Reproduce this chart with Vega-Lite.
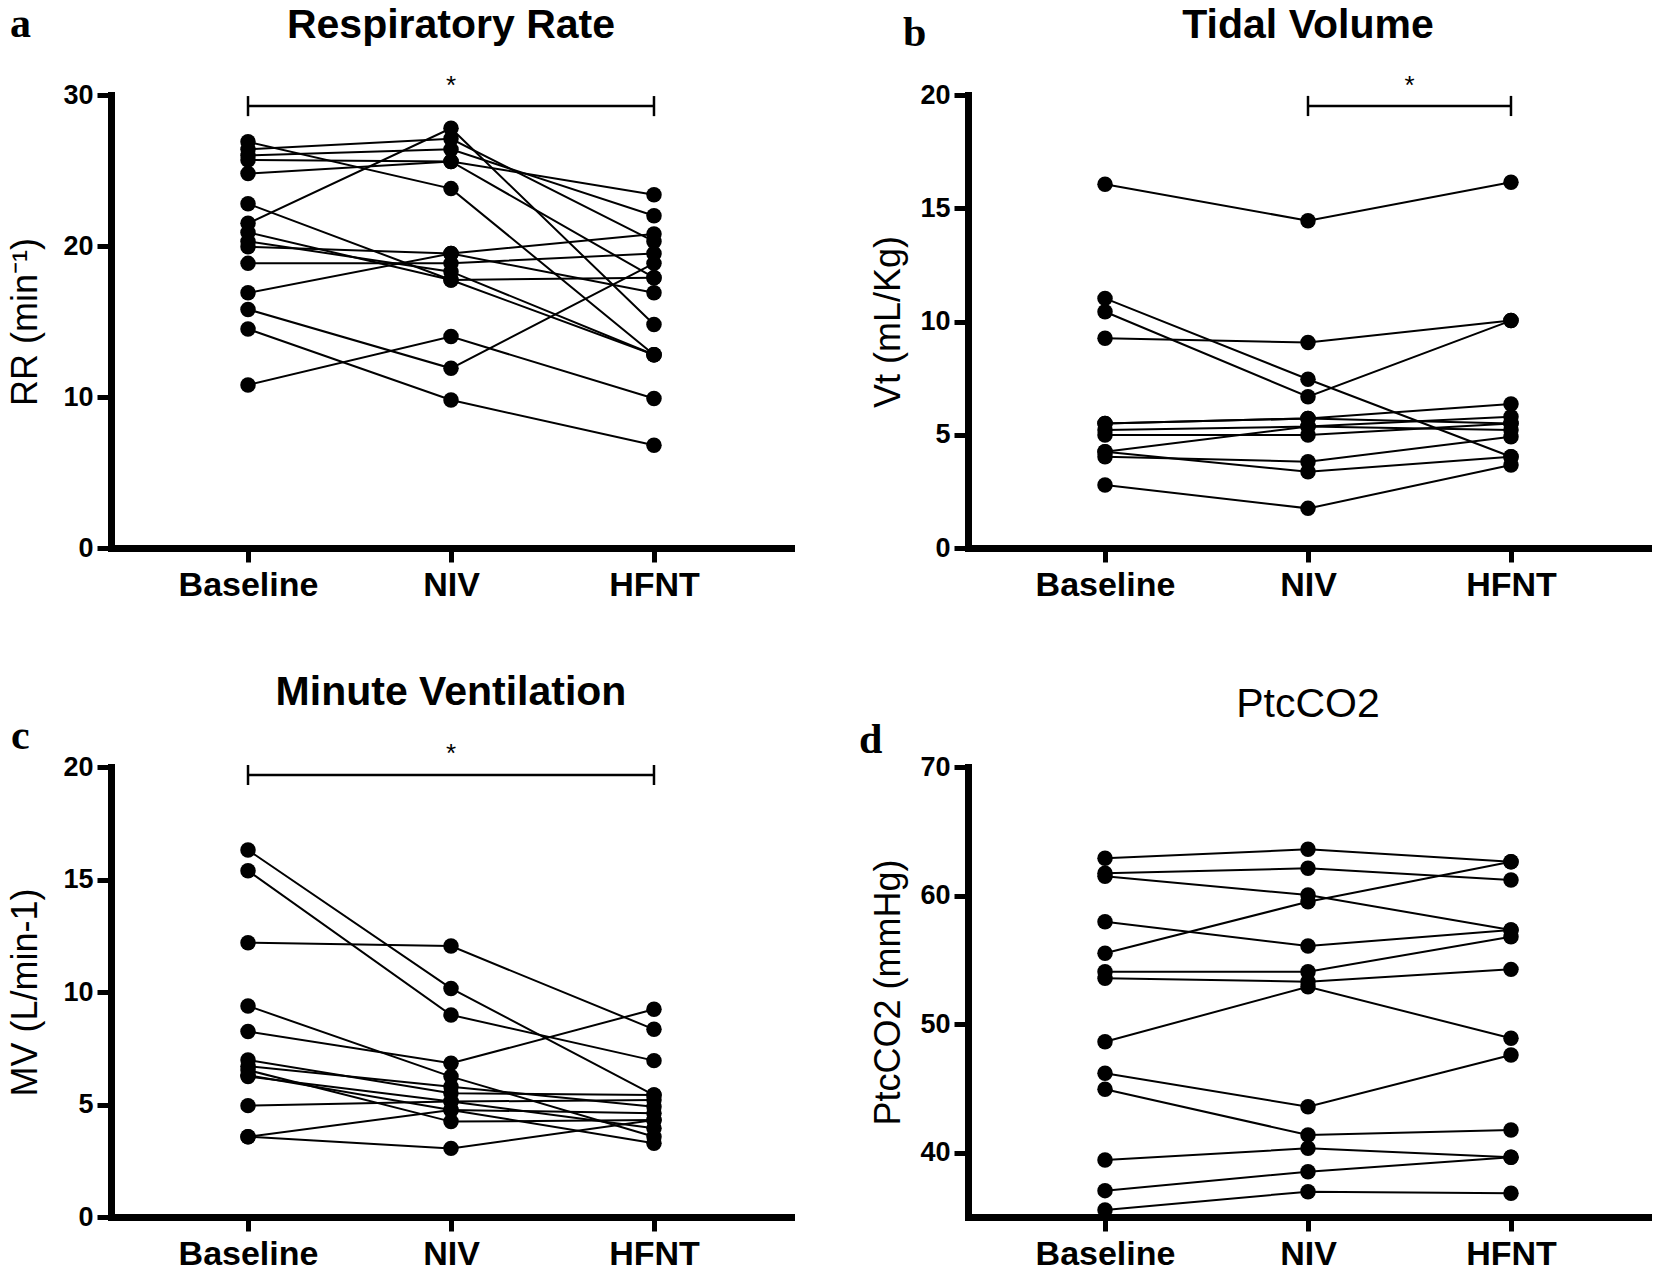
{
  "$schema": "https://vega.github.io/schema/vega-lite/v6.json",
  "autosize": "none",
  "padding": {"left": 111, "top": 95, "right": 1543, "bottom": 1178},
  "background": "white",
  "config": {
    "view": {"stroke": null},
    "font": "Liberation Sans",
    "axis": {"domainColor": "black", "domainWidth": 7, "domainCap": "square", "tickColor": "black", "tickWidth": 5, "tickSize": 14, "labelColor": "black", "labelFont": "Liberation Sans", "labelFontWeight": "bold", "grid": false, "titleFont": "Liberation Sans", "titleFontWeight": "normal", "titleColor": "black", "titleFontSize": 36, "labelPadding": 4, "labelOverlap": false},
    "axisX": {"labelFontSize": 34, "labelAngle": 0, "labelPadding": 6},
    "axisY": {"labelFontSize": 27, "labelFlush": false}
  },
  "datasets": {
    "pts": [
      {"panel": "a", "subject": 1, "condition": "Baseline", "value": 26.9}, {"panel": "a", "subject": 1, "condition": "NIV", "value": 23.8}, {"panel": "a", "subject": 1, "condition": "HFNT", "value": 12.8},
      {"panel": "a", "subject": 2, "condition": "Baseline", "value": 26.4}, {"panel": "a", "subject": 2, "condition": "NIV", "value": 27.1}, {"panel": "a", "subject": 2, "condition": "HFNT", "value": 20.3},
      {"panel": "a", "subject": 3, "condition": "Baseline", "value": 26.0}, {"panel": "a", "subject": 3, "condition": "NIV", "value": 26.4}, {"panel": "a", "subject": 3, "condition": "HFNT", "value": 22.0},
      {"panel": "a", "subject": 4, "condition": "Baseline", "value": 25.7}, {"panel": "a", "subject": 4, "condition": "NIV", "value": 25.6}, {"panel": "a", "subject": 4, "condition": "HFNT", "value": 23.4},
      {"panel": "a", "subject": 5, "condition": "Baseline", "value": 24.8}, {"panel": "a", "subject": 5, "condition": "NIV", "value": 25.6}, {"panel": "a", "subject": 5, "condition": "HFNT", "value": 17.9},
      {"panel": "a", "subject": 6, "condition": "Baseline", "value": 22.8}, {"panel": "a", "subject": 6, "condition": "NIV", "value": 17.75}, {"panel": "a", "subject": 6, "condition": "HFNT", "value": 12.8},
      {"panel": "a", "subject": 7, "condition": "Baseline", "value": 21.5}, {"panel": "a", "subject": 7, "condition": "NIV", "value": 27.8}, {"panel": "a", "subject": 7, "condition": "HFNT", "value": 14.8},
      {"panel": "a", "subject": 8, "condition": "Baseline", "value": 20.9}, {"panel": "a", "subject": 8, "condition": "NIV", "value": 17.75}, {"panel": "a", "subject": 8, "condition": "HFNT", "value": 17.9},
      {"panel": "a", "subject": 9, "condition": "Baseline", "value": 20.3}, {"panel": "a", "subject": 9, "condition": "NIV", "value": 18.3}, {"panel": "a", "subject": 9, "condition": "HFNT", "value": 12.8},
      {"panel": "a", "subject": 10, "condition": "Baseline", "value": 19.95}, {"panel": "a", "subject": 10, "condition": "NIV", "value": 19.5}, {"panel": "a", "subject": 10, "condition": "HFNT", "value": 16.9},
      {"panel": "a", "subject": 11, "condition": "Baseline", "value": 18.85}, {"panel": "a", "subject": 11, "condition": "NIV", "value": 18.85}, {"panel": "a", "subject": 11, "condition": "HFNT", "value": 19.5},
      {"panel": "a", "subject": 12, "condition": "Baseline", "value": 16.9}, {"panel": "a", "subject": 12, "condition": "NIV", "value": 19.5}, {"panel": "a", "subject": 12, "condition": "HFNT", "value": 20.8},
      {"panel": "a", "subject": 13, "condition": "Baseline", "value": 15.8}, {"panel": "a", "subject": 13, "condition": "NIV", "value": 11.9}, {"panel": "a", "subject": 13, "condition": "HFNT", "value": 18.85},
      {"panel": "a", "subject": 14, "condition": "Baseline", "value": 14.5}, {"panel": "a", "subject": 14, "condition": "NIV", "value": 9.8}, {"panel": "a", "subject": 14, "condition": "HFNT", "value": 6.8},
      {"panel": "a", "subject": 15, "condition": "Baseline", "value": 10.8}, {"panel": "a", "subject": 15, "condition": "NIV", "value": 14.0}, {"panel": "a", "subject": 15, "condition": "HFNT", "value": 9.9},
      {"panel": "b", "subject": 1, "condition": "Baseline", "value": 16.06}, {"panel": "b", "subject": 1, "condition": "NIV", "value": 14.45}, {"panel": "b", "subject": 1, "condition": "HFNT", "value": 16.15},
      {"panel": "b", "subject": 2, "condition": "Baseline", "value": 11.02}, {"panel": "b", "subject": 2, "condition": "NIV", "value": 7.45}, {"panel": "b", "subject": 2, "condition": "HFNT", "value": 4.03},
      {"panel": "b", "subject": 3, "condition": "Baseline", "value": 10.43}, {"panel": "b", "subject": 3, "condition": "NIV", "value": 6.68}, {"panel": "b", "subject": 3, "condition": "HFNT", "value": 10.04},
      {"panel": "b", "subject": 4, "condition": "Baseline", "value": 9.26}, {"panel": "b", "subject": 4, "condition": "NIV", "value": 9.07}, {"panel": "b", "subject": 4, "condition": "HFNT", "value": 10.04},
      {"panel": "b", "subject": 5, "condition": "Baseline", "value": 5.5}, {"panel": "b", "subject": 5, "condition": "NIV", "value": 5.72}, {"panel": "b", "subject": 5, "condition": "HFNT", "value": 6.36},
      {"panel": "b", "subject": 6, "condition": "Baseline", "value": 5.21}, {"panel": "b", "subject": 6, "condition": "NIV", "value": 5.36}, {"panel": "b", "subject": 6, "condition": "HFNT", "value": 5.8},
      {"panel": "b", "subject": 7, "condition": "Baseline", "value": 4.99}, {"panel": "b", "subject": 7, "condition": "NIV", "value": 4.99}, {"panel": "b", "subject": 7, "condition": "HFNT", "value": 5.5},
      {"panel": "b", "subject": 8, "condition": "Baseline", "value": 4.25}, {"panel": "b", "subject": 8, "condition": "NIV", "value": 5.36}, {"panel": "b", "subject": 8, "condition": "HFNT", "value": 5.21},
      {"panel": "b", "subject": 9, "condition": "Baseline", "value": 4.03}, {"panel": "b", "subject": 9, "condition": "NIV", "value": 3.81}, {"panel": "b", "subject": 9, "condition": "HFNT", "value": 4.91},
      {"panel": "b", "subject": 10, "condition": "Baseline", "value": 4.25}, {"panel": "b", "subject": 10, "condition": "NIV", "value": 3.37}, {"panel": "b", "subject": 10, "condition": "HFNT", "value": 4.03},
      {"panel": "b", "subject": 11, "condition": "Baseline", "value": 2.78}, {"panel": "b", "subject": 11, "condition": "NIV", "value": 1.75}, {"panel": "b", "subject": 11, "condition": "HFNT", "value": 3.66},
      {"panel": "b", "subject": 12, "condition": "Baseline", "value": 5.5}, {"panel": "b", "subject": 12, "condition": "NIV", "value": 5.72}, {"panel": "b", "subject": 12, "condition": "HFNT", "value": 5.5},
      {"panel": "c", "subject": 1, "condition": "Baseline", "value": 16.31}, {"panel": "c", "subject": 1, "condition": "NIV", "value": 10.16}, {"panel": "c", "subject": 1, "condition": "HFNT", "value": 5.42},
      {"panel": "c", "subject": 2, "condition": "Baseline", "value": 15.39}, {"panel": "c", "subject": 2, "condition": "NIV", "value": 8.98}, {"panel": "c", "subject": 2, "condition": "HFNT", "value": 6.95},
      {"panel": "c", "subject": 3, "condition": "Baseline", "value": 12.19}, {"panel": "c", "subject": 3, "condition": "NIV", "value": 12.04}, {"panel": "c", "subject": 3, "condition": "HFNT", "value": 8.34},
      {"panel": "c", "subject": 4, "condition": "Baseline", "value": 9.38}, {"panel": "c", "subject": 4, "condition": "NIV", "value": 6.24}, {"panel": "c", "subject": 4, "condition": "HFNT", "value": 3.57},
      {"panel": "c", "subject": 5, "condition": "Baseline", "value": 8.24}, {"panel": "c", "subject": 5, "condition": "NIV", "value": 6.83}, {"panel": "c", "subject": 5, "condition": "HFNT", "value": 9.23},
      {"panel": "c", "subject": 6, "condition": "Baseline", "value": 6.98}, {"panel": "c", "subject": 6, "condition": "NIV", "value": 5.5}, {"panel": "c", "subject": 6, "condition": "HFNT", "value": 5.42},
      {"panel": "c", "subject": 7, "condition": "Baseline", "value": 6.53}, {"panel": "c", "subject": 7, "condition": "NIV", "value": 4.24}, {"panel": "c", "subject": 7, "condition": "HFNT", "value": 4.31},
      {"panel": "c", "subject": 8, "condition": "Baseline", "value": 6.24}, {"panel": "c", "subject": 8, "condition": "NIV", "value": 5.13}, {"panel": "c", "subject": 8, "condition": "HFNT", "value": 3.94},
      {"panel": "c", "subject": 9, "condition": "Baseline", "value": 6.7}, {"panel": "c", "subject": 9, "condition": "NIV", "value": 5.79}, {"panel": "c", "subject": 9, "condition": "HFNT", "value": 4.9},
      {"panel": "c", "subject": 10, "condition": "Baseline", "value": 4.95}, {"panel": "c", "subject": 10, "condition": "NIV", "value": 5.13}, {"panel": "c", "subject": 10, "condition": "HFNT", "value": 5.2},
      {"panel": "c", "subject": 11, "condition": "Baseline", "value": 3.57}, {"panel": "c", "subject": 11, "condition": "NIV", "value": 4.76}, {"panel": "c", "subject": 11, "condition": "HFNT", "value": 4.61},
      {"panel": "c", "subject": 12, "condition": "Baseline", "value": 3.57}, {"panel": "c", "subject": 12, "condition": "NIV", "value": 3.05}, {"panel": "c", "subject": 12, "condition": "HFNT", "value": 4.31},
      {"panel": "c", "subject": 13, "condition": "Baseline", "value": 6.3}, {"panel": "c", "subject": 13, "condition": "NIV", "value": 4.76}, {"panel": "c", "subject": 13, "condition": "HFNT", "value": 3.28},
      {"panel": "d", "subject": 1, "condition": "Baseline", "value": 62.9}, {"panel": "d", "subject": 1, "condition": "NIV", "value": 63.6}, {"panel": "d", "subject": 1, "condition": "HFNT", "value": 62.63},
      {"panel": "d", "subject": 2, "condition": "Baseline", "value": 61.73}, {"panel": "d", "subject": 2, "condition": "NIV", "value": 62.12}, {"panel": "d", "subject": 2, "condition": "HFNT", "value": 61.21},
      {"panel": "d", "subject": 3, "condition": "Baseline", "value": 61.5}, {"panel": "d", "subject": 3, "condition": "NIV", "value": 60.04}, {"panel": "d", "subject": 3, "condition": "HFNT", "value": 57.32},
      {"panel": "d", "subject": 4, "condition": "Baseline", "value": 57.97}, {"panel": "d", "subject": 4, "condition": "NIV", "value": 56.08}, {"panel": "d", "subject": 4, "condition": "HFNT", "value": 57.32},
      {"panel": "d", "subject": 5, "condition": "Baseline", "value": 55.51}, {"panel": "d", "subject": 5, "condition": "NIV", "value": 59.52}, {"panel": "d", "subject": 5, "condition": "HFNT", "value": 62.63},
      {"panel": "d", "subject": 6, "condition": "Baseline", "value": 54.08}, {"panel": "d", "subject": 6, "condition": "NIV", "value": 54.08}, {"panel": "d", "subject": 6, "condition": "HFNT", "value": 56.8},
      {"panel": "d", "subject": 7, "condition": "Baseline", "value": 53.56}, {"panel": "d", "subject": 7, "condition": "NIV", "value": 53.3}, {"panel": "d", "subject": 7, "condition": "HFNT", "value": 54.26},
      {"panel": "d", "subject": 8, "condition": "Baseline", "value": 48.63}, {"panel": "d", "subject": 8, "condition": "NIV", "value": 52.91}, {"panel": "d", "subject": 8, "condition": "HFNT", "value": 48.9},
      {"panel": "d", "subject": 9, "condition": "Baseline", "value": 46.18}, {"panel": "d", "subject": 9, "condition": "NIV", "value": 43.58}, {"panel": "d", "subject": 9, "condition": "HFNT", "value": 47.6},
      {"panel": "d", "subject": 10, "condition": "Baseline", "value": 44.93}, {"panel": "d", "subject": 10, "condition": "NIV", "value": 41.38}, {"panel": "d", "subject": 10, "condition": "HFNT", "value": 41.77},
      {"panel": "d", "subject": 11, "condition": "Baseline", "value": 39.43}, {"panel": "d", "subject": 11, "condition": "NIV", "value": 40.34}, {"panel": "d", "subject": 11, "condition": "HFNT", "value": 39.64},
      {"panel": "d", "subject": 12, "condition": "Baseline", "value": 37.05}, {"panel": "d", "subject": 12, "condition": "NIV", "value": 38.52}, {"panel": "d", "subject": 12, "condition": "HFNT", "value": 39.64},
      {"panel": "d", "subject": 13, "condition": "Baseline", "value": 35.54}, {"panel": "d", "subject": 13, "condition": "NIV", "value": 36.97}, {"panel": "d", "subject": 13, "condition": "HFNT", "value": 36.84}
    ]
  },
  "columns": 2,
  "bounds": "flush",
  "spacing": {"row": 219, "column": 177},
  "concat": [
    {
      "width": 680, "height": 453,
      "layer": [
        {"data": {"name": "pts"}, "transform": [{"filter": "datum.panel == 'a'"}],
         "mark": {"type": "line", "color": "black", "strokeWidth": 2},
         "encoding": {
           "x": {"field": "condition", "type": "ordinal", "sort": ["Baseline", "NIV", "HFNT"], "scale": {"type": "point", "padding": 0.675, "domain": ["Baseline", "NIV", "HFNT"]}, "axis": {"title": null}},
           "y": {"field": "value", "type": "quantitative", "scale": {"domain": [0, 30], "nice": false, "zero": false}, "axis": {"title": "RR (min⁻¹)", "values": [0, 10, 20, 30], "titlePadding": 18}},
           "detail": {"field": "subject", "type": "nominal"}}},
        {"data": {"name": "pts"}, "transform": [{"filter": "datum.panel == 'a'"}],
         "mark": {"type": "circle", "color": "black", "size": 240, "opacity": 1},
         "encoding": {"x": {"field": "condition", "type": "ordinal"}, "y": {"field": "value", "type": "quantitative"}}},
        {"data": {"values": [{}]}, "mark": {"type": "rule", "color": "black", "strokeWidth": 2.5},
         "encoding": {"x": {"datum": "Baseline", "type": "ordinal"}, "x2": {"datum": "HFNT"}, "y": {"datum": 29.27, "type": "quantitative"}}},
        {"data": {"values": [{"end": "Baseline"}, {"end": "HFNT"}]}, "mark": {"type": "rule", "color": "black", "strokeWidth": 2.5},
         "encoding": {"x": {"field": "end", "type": "ordinal"}, "y": {"datum": 29.93, "type": "quantitative"}, "y2": {"datum": 28.6}}},
        {"data": {"values": [{}]}, "mark": {"type": "text", "text": "*", "fontSize": 26, "align": "center", "baseline": "alphabetic", "color": "black"},
         "encoding": {"x": {"datum": "NIV", "type": "ordinal"}, "y": {"datum": 30.07, "type": "quantitative"}}},
        {"data": {"values": [{}]}, "mark": {"type": "text", "text": "Respiratory Rate", "fontSize": 41, "fontWeight": "bold", "align": "center", "baseline": "alphabetic", "color": "black"},
         "encoding": {"x": {"datum": "NIV", "type": "ordinal"}, "y": {"datum": 33.77, "type": "quantitative"}}},
        {"data": {"values": [{}]}, "mark": {"type": "text", "text": "a", "font": "Liberation Serif", "fontSize": 42, "fontWeight": "bold", "align": "left", "baseline": "alphabetic", "dx": -238, "color": "black"},
         "encoding": {"x": {"datum": "Baseline", "type": "ordinal"}, "y": {"datum": 33.84, "type": "quantitative"}}}
      ]
    },
    {
      "width": 680, "height": 453,
      "layer": [
        {"data": {"name": "pts"}, "transform": [{"filter": "datum.panel == 'b'"}],
         "mark": {"type": "line", "color": "black", "strokeWidth": 2},
         "encoding": {
           "x": {"field": "condition", "type": "ordinal", "sort": ["Baseline", "NIV", "HFNT"], "scale": {"type": "point", "padding": 0.675, "domain": ["Baseline", "NIV", "HFNT"]}, "axis": {"title": null}},
           "y": {"field": "value", "type": "quantitative", "scale": {"domain": [0, 20], "nice": false, "zero": false}, "axis": {"title": "Vt (mL/Kg)", "values": [0, 5, 10, 15, 20], "titlePadding": 12}},
           "detail": {"field": "subject", "type": "nominal"}}},
        {"data": {"name": "pts"}, "transform": [{"filter": "datum.panel == 'b'"}],
         "mark": {"type": "circle", "color": "black", "size": 240, "opacity": 1},
         "encoding": {"x": {"field": "condition", "type": "ordinal"}, "y": {"field": "value", "type": "quantitative"}}},
        {"data": {"values": [{}]}, "mark": {"type": "rule", "color": "black", "strokeWidth": 2.5},
         "encoding": {"x": {"datum": "NIV", "type": "ordinal"}, "x2": {"datum": "HFNT"}, "y": {"datum": 19.51, "type": "quantitative"}}},
        {"data": {"values": [{"end": "NIV"}, {"end": "HFNT"}]}, "mark": {"type": "rule", "color": "black", "strokeWidth": 2.5},
         "encoding": {"x": {"field": "end", "type": "ordinal"}, "y": {"datum": 19.96, "type": "quantitative"}, "y2": {"datum": 19.07}}},
        {"data": {"values": [{}]}, "mark": {"type": "text", "text": "*", "fontSize": 26, "align": "center", "baseline": "alphabetic", "dx": 101.5, "color": "black"},
         "encoding": {"x": {"datum": "NIV", "type": "ordinal"}, "y": {"datum": 20.04, "type": "quantitative"}}},
        {"data": {"values": [{}]}, "mark": {"type": "text", "text": "Tidal Volume", "fontSize": 41, "fontWeight": "bold", "align": "center", "baseline": "alphabetic", "color": "black"},
         "encoding": {"x": {"datum": "NIV", "type": "ordinal"}, "y": {"datum": 22.52, "type": "quantitative"}}},
        {"data": {"values": [{}]}, "mark": {"type": "text", "text": "b", "font": "Liberation Serif", "fontSize": 42, "fontWeight": "bold", "align": "left", "baseline": "alphabetic", "dx": -202, "color": "black"},
         "encoding": {"x": {"datum": "Baseline", "type": "ordinal"}, "y": {"datum": 22.16, "type": "quantitative"}}}
      ]
    },
    {
      "width": 680, "height": 450,
      "layer": [
        {"data": {"name": "pts"}, "transform": [{"filter": "datum.panel == 'c'"}],
         "mark": {"type": "line", "color": "black", "strokeWidth": 2},
         "encoding": {
           "x": {"field": "condition", "type": "ordinal", "sort": ["Baseline", "NIV", "HFNT"], "scale": {"type": "point", "padding": 0.675, "domain": ["Baseline", "NIV", "HFNT"]}, "axis": {"title": null}},
           "y": {"field": "value", "type": "quantitative", "scale": {"domain": [0, 20], "nice": false, "zero": false}, "axis": {"title": "MV (L/min-1)", "values": [0, 5, 10, 15, 20], "titlePadding": 18}},
           "detail": {"field": "subject", "type": "nominal"}}},
        {"data": {"name": "pts"}, "transform": [{"filter": "datum.panel == 'c'"}],
         "mark": {"type": "circle", "color": "black", "size": 240, "opacity": 1},
         "encoding": {"x": {"field": "condition", "type": "ordinal"}, "y": {"field": "value", "type": "quantitative"}}},
        {"data": {"values": [{}]}, "mark": {"type": "rule", "color": "black", "strokeWidth": 2.5},
         "encoding": {"x": {"datum": "Baseline", "type": "ordinal"}, "x2": {"datum": "HFNT"}, "y": {"datum": 19.64, "type": "quantitative"}}},
        {"data": {"values": [{"end": "Baseline"}, {"end": "HFNT"}]}, "mark": {"type": "rule", "color": "black", "strokeWidth": 2.5},
         "encoding": {"x": {"field": "end", "type": "ordinal"}, "y": {"datum": 20.09, "type": "quantitative"}, "y2": {"datum": 19.2}}},
        {"data": {"values": [{}]}, "mark": {"type": "text", "text": "*", "fontSize": 26, "align": "center", "baseline": "alphabetic", "color": "black"},
         "encoding": {"x": {"datum": "NIV", "type": "ordinal"}, "y": {"datum": 20.22, "type": "quantitative"}}},
        {"data": {"values": [{}]}, "mark": {"type": "text", "text": "Minute Ventilation", "fontSize": 41, "fontWeight": "bold", "align": "center", "baseline": "alphabetic", "color": "black"},
         "encoding": {"x": {"datum": "NIV", "type": "ordinal"}, "y": {"datum": 22.76, "type": "quantitative"}}},
        {"data": {"values": [{}]}, "mark": {"type": "text", "text": "c", "font": "Liberation Serif", "fontSize": 42, "fontWeight": "bold", "align": "left", "baseline": "alphabetic", "dx": -237, "color": "black"},
         "encoding": {"x": {"datum": "Baseline", "type": "ordinal"}, "y": {"datum": 20.8, "type": "quantitative"}}}
      ]
    },
    {
      "width": 680, "height": 450,
      "layer": [
        {"data": {"name": "pts"}, "transform": [{"filter": "datum.panel == 'd'"}],
         "mark": {"type": "line", "color": "black", "strokeWidth": 2},
         "encoding": {
           "x": {"field": "condition", "type": "ordinal", "sort": ["Baseline", "NIV", "HFNT"], "scale": {"type": "point", "padding": 0.675, "domain": ["Baseline", "NIV", "HFNT"]}, "axis": {"title": null}},
           "y": {"field": "value", "type": "quantitative", "scale": {"domain": [35, 70], "nice": false, "zero": false}, "axis": {"title": "PtcCO2 (mmHg)", "values": [40, 50, 60, 70], "titlePadding": 12}},
           "detail": {"field": "subject", "type": "nominal"}}},
        {"data": {"name": "pts"}, "transform": [{"filter": "datum.panel == 'd'"}],
         "mark": {"type": "circle", "color": "black", "size": 240, "opacity": 1},
         "encoding": {"x": {"field": "condition", "type": "ordinal"}, "y": {"field": "value", "type": "quantitative"}}},
        {"data": {"values": [{}]}, "mark": {"type": "text", "text": "PtcCO2", "fontSize": 41, "fontWeight": "normal", "align": "center", "baseline": "alphabetic", "color": "black"},
         "encoding": {"x": {"datum": "NIV", "type": "ordinal"}, "y": {"datum": 73.89, "type": "quantitative"}}},
        {"data": {"values": [{}]}, "mark": {"type": "text", "text": "d", "font": "Liberation Serif", "fontSize": 42, "fontWeight": "bold", "align": "left", "baseline": "alphabetic", "dx": -246, "color": "black"},
         "encoding": {"x": {"datum": "Baseline", "type": "ordinal"}, "y": {"datum": 71.09, "type": "quantitative"}}}
      ]
    }
  ]
}
